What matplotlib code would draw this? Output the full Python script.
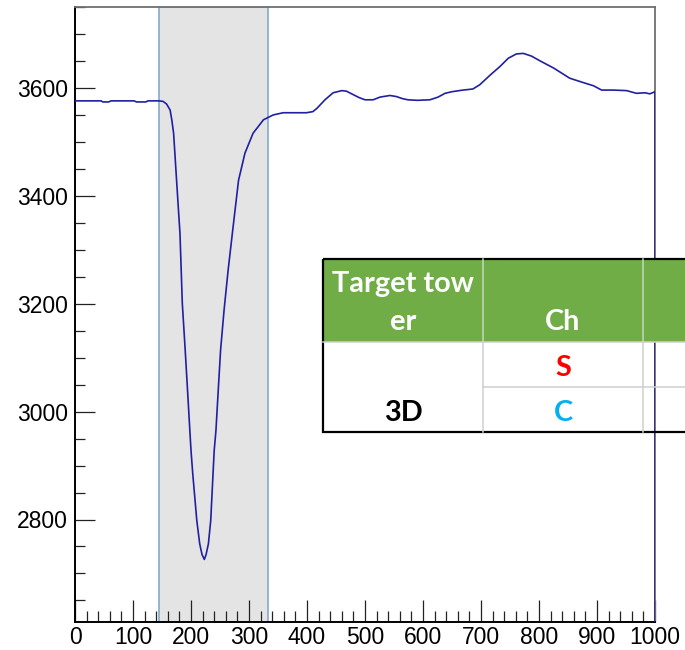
import numpy as np
import matplotlib
matplotlib.use("Agg")
import matplotlib.pyplot as plt
from matplotlib.patches import Rectangle
from matplotlib.ticker import MultipleLocator

# waveform samples (time bin, ADC counts)
t = [0, 45, 48, 58, 62, 102, 106, 122, 126, 145, 152, 158, 164, 167, 170, 174, 178, 181,
     185, 190, 194, 198, 200, 203, 210, 215, 219, 223, 226, 230, 234, 238, 240, 243, 247,
     251, 257, 264, 272, 282, 293, 307, 325, 342, 359, 380, 399, 410, 417, 424, 431, 445,
     460, 468, 477, 490, 500, 514, 526, 543, 554, 565, 574, 590, 612, 626, 638, 650, 669,
     686, 698, 716, 733, 747, 761, 773, 787, 802, 825, 853, 876, 894, 908, 928, 951, 968,
     983, 991, 1000]
adc = [3576, 3576, 3574, 3574, 3576, 3576, 3574, 3574, 3576, 3576, 3575, 3570, 3559, 3540,
       3516, 3448, 3380, 3330, 3201, 3114, 3040, 2965, 2928, 2885, 2798, 2755, 2735, 2726,
       2735, 2755, 2798, 2885, 2928, 2965, 3040, 3114, 3188, 3262, 3337, 3429, 3479, 3516,
       3541, 3550, 3554, 3554, 3554, 3556, 3562, 3570, 3578, 3591, 3595, 3594, 3589, 3582,
       3578, 3578, 3583, 3586, 3584, 3580, 3578, 3577, 3578, 3583, 3590, 3593, 3596, 3598,
       3606, 3624, 3640, 3655, 3663, 3664, 3659, 3650, 3637, 3618, 3610, 3604, 3596, 3596,
       3595, 3590, 3591, 3589, 3593]

gate = (145, 333)          # integration window
ymin, ymax = 2610, 3750

# table overlay contents
hdr = ["Target tow\ner", "Ch"]
tower = "3D"
channels = ["S", "C"]
ch_colors = ["#ff0000", "#00b0f0"]

fig = plt.figure(figsize=(6.85, 6.5), dpi=100)
ax = fig.add_axes([75/685, 28/650, 580/685, 615/650])

ax.axvspan(gate[0], gate[1], facecolor="#e4e4e4", edgecolor="#8eaecd", lw=1.3, zorder=1)
ax.plot(t, adc, color="#2020a0", lw=1.2, zorder=3)
ax.vlines(t[-1], ymin, adc[-1], color="#2020a0", lw=1.2, zorder=3)

ax.set_xlim(0, 1000)
ax.set_ylim(ymin, ymax)
ax.xaxis.set_major_locator(MultipleLocator(100))
ax.xaxis.set_minor_locator(MultipleLocator(20))
ax.yaxis.set_major_locator(MultipleLocator(200))
ax.yaxis.set_minor_locator(MultipleLocator(50))

ax.tick_params(axis="x", which="major", direction="in", length=15.5, width=0.9,
               color="#222222", pad=3, labelsize=16.5, top=False)
ax.tick_params(axis="x", which="minor", direction="in", length=8, width=0.9,
               color="#222222", top=False)
ax.tick_params(axis="y", which="major", direction="in", length=14.5, width=0.9,
               color="#222222", pad=5, labelsize=16.5, right=False)
ax.tick_params(axis="y", which="minor", direction="in", length=7.2, width=0.9,
               color="#222222", right=False)
for lab in ax.get_xticklabels() + ax.get_yticklabels():
    lab.set_fontfamily("Liberation Sans")

ax.spines["left"].set_color("black")
ax.spines["bottom"].set_color("black")
ax.spines["left"].set_linewidth(1.4)
ax.spines["bottom"].set_linewidth(1.4)
ax.spines["top"].set_color("#707070")
ax.spines["right"].set_color("#707070")
ax.spines["top"].set_linewidth(1.3)
ax.spines["right"].set_linewidth(1.3)

# table drawn in pixel coordinates on a full-figure overlay
tax = fig.add_axes([0, 0, 1, 1], zorder=10)
tax.set_xlim(0, 685)
tax.set_ylim(650, 0)
tax.axis("off")

x0, x1 = 323, 700
c1, c2 = 483, 643
y0, yh, yr, y1 = 259, 341.5, 386.5, 431.5

tax.add_patch(Rectangle((x0, y0), x1 - x0, yh - y0, facecolor="#70ad47", edgecolor="none"))
for cx in (c1, c2):
    tax.plot([cx, cx], [y0, yh], color="#c5dab6", lw=1.1)
    tax.plot([cx, cx], [yh, y1], color="#d0d0d0", lw=1.1)
tax.plot([x0, x1], [yh, yh], color="#d0d0d0", lw=1.1)
tax.plot([c1, x1], [yr, yr], color="#d0d0d0", lw=1.1)
tax.add_patch(Rectangle((x0, y0), x1 - x0, y1 - y0, facecolor="none",
                        edgecolor="black", lw=1.6))

fkw = dict(family=["Lato", "DejaVu Sans"], weight="bold", fontsize=20.8,
           ha="center", va="baseline")
line1, line2 = hdr[0].split("\n")
tax.text((x0 + c1) / 2, 291.7, line1, color="white", **fkw)
tax.text((x0 + c1) / 2, 330, line2, color="white", **fkw)
tax.text((c1 + c2) / 2, 330, hdr[1], color="white", **fkw)
tax.text((c1 + c2) / 2, 376, channels[0], color=ch_colors[0], **fkw)
tax.text((c1 + c2) / 2, 420.7, channels[1], color=ch_colors[1], **fkw)
tax.text((x0 + c1) / 2, 420.7, tower, color="black", **fkw)

fig.savefig("out.png", dpi=100)
